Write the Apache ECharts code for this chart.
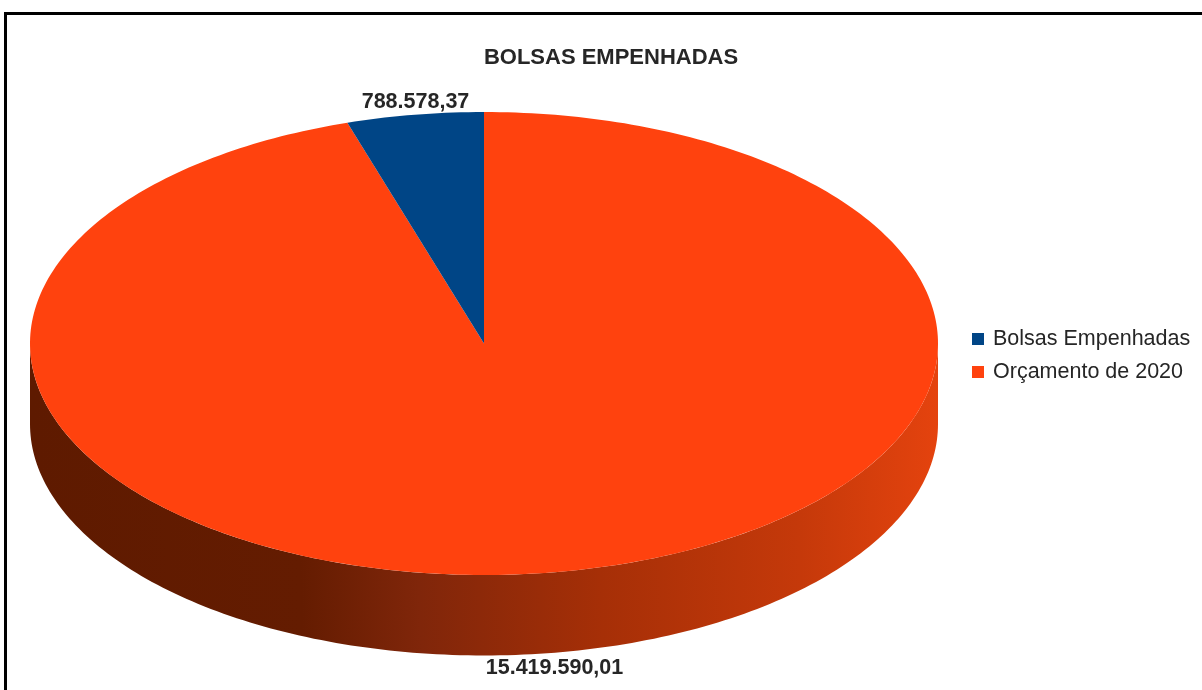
<!DOCTYPE html>
<html><head><meta charset="utf-8">
<style>html,body{margin:0;padding:0;background:#fff}#c{width:1202px;height:690px}</style>
<script src="https://cdn.jsdelivr.net/npm/echarts@6/dist/echarts.min.js"></script>
</head><body><div id="c"></div>
<script>
var titleText = 'BOLSAS EMPENHADAS';
var categories = ['Bolsas Empenhadas', 'Orçamento de 2020'];
var values = [788578.37, 15419590.01];
var valueLabels = ['788.578,37', '15.419.590,01'];

var total = values[0] + values[1];
var CX = 484, CY = 343.5, RX = 454, RY = 231.5, DEPTH = 80.5;
var STEPS = 360;
var FONT = '"Liberation Sans", Arial, sans-serif';

function pt(a, dy) { return [CX + RX * Math.sin(a), CY - RY * Math.cos(a) + (dy || 0)]; }

function sectorPoints(a0, a1) {
  var pts = [[CX, CY]], n = Math.max(8, Math.round(STEPS * Math.abs(a1 - a0) / (2 * Math.PI)));
  for (var i = 0; i <= n; i++) pts.push(pt(a0 + (a1 - a0) * i / n));
  return pts;
}
function wallPoints() {
  var pts = [], i, n = 180;
  for (i = 0; i <= n; i++) pts.push(pt(Math.PI / 2 + Math.PI * i / n));
  for (i = n; i >= 0; i--) pts.push(pt(Math.PI / 2 + Math.PI * i / n, DEPTH));
  return pts;
}
var wallFill = new echarts.graphic.LinearGradient(0, 0.1, 1, 0, [
  { offset: 0, color: '#5e1a00' },
  { offset: 0.29, color: '#641c01' },
  { offset: 0.42, color: '#80260a' },
  { offset: 0.62, color: '#a62f07' },
  { offset: 0.84, color: '#c5390a' },
  { offset: 1, color: '#e5430e' }
]);

function makeRender(index, labelPos) {
  return function (params, api) {
    var share = api.value(0) / total;
    // Slices run counter-clockwise from 12 o'clock, first category first.
    var before = 0;
    for (var k = 0; k < index; k++) before += values[k] / total;
    var a0 = -2 * Math.PI * before;
    var a1 = a0 - 2 * Math.PI * share;
    var color = api.visual('color');
    var children = [];
    if (index === 1) {
      children.push({ type: 'polygon', shape: { points: wallPoints() }, style: { fill: wallFill } });
    }
    children.push({ type: 'polygon', shape: { points: sectorPoints(a0, a1) }, style: { fill: color } });
    children.push({
      type: 'text', x: labelPos[0], y: labelPos[1], z2: 10,
      style: { text: valueLabels[index], fill: '#262626', font: 'bold 21.5px ' + FONT, align: 'center', verticalAlign: 'middle' }
    });
    return { type: 'group', children: children };
  };
}

var chart = echarts.init(document.getElementById('c'), null, { renderer: 'canvas' });
chart.setOption({
  animation: false,
  backgroundColor: '#fff',
  title: {
    text: titleText, left: 606, top: 42, textAlign: 'center',
    textStyle: { fontFamily: FONT, fontSize: 22, fontWeight: 'bold', color: '#262626' }
  },
  legend: {
    orient: 'vertical', left: 967, top: 322, itemWidth: 12, itemHeight: 12, itemGap: 9,
    icon: 'rect', data: categories,
    textStyle: { fontFamily: FONT, fontSize: 21.5, lineHeight: 24, color: '#262626', padding: [0, 0, 0, 4] }
  },
  graphic: [
    { type: 'rect', shape: { x: 4, y: 12, width: 1198, height: 3 }, style: { fill: '#000' }, silent: true },
    { type: 'rect', shape: { x: 4, y: 12, width: 3, height: 678 }, style: { fill: '#000' }, silent: true }
  ],
  series: [
    { type: 'custom', name: categories[1], coordinateSystem: 'none', z: 1, itemStyle: { color: '#ff420e' },
      data: [[values[1]]], renderItem: makeRender(1, [554.5, 668]) },
    { type: 'custom', name: categories[0], coordinateSystem: 'none', z: 2, itemStyle: { color: '#004586' },
      data: [[values[0]]], renderItem: makeRender(0, [415.5, 102]) }
  ]
});
</script></body></html>
